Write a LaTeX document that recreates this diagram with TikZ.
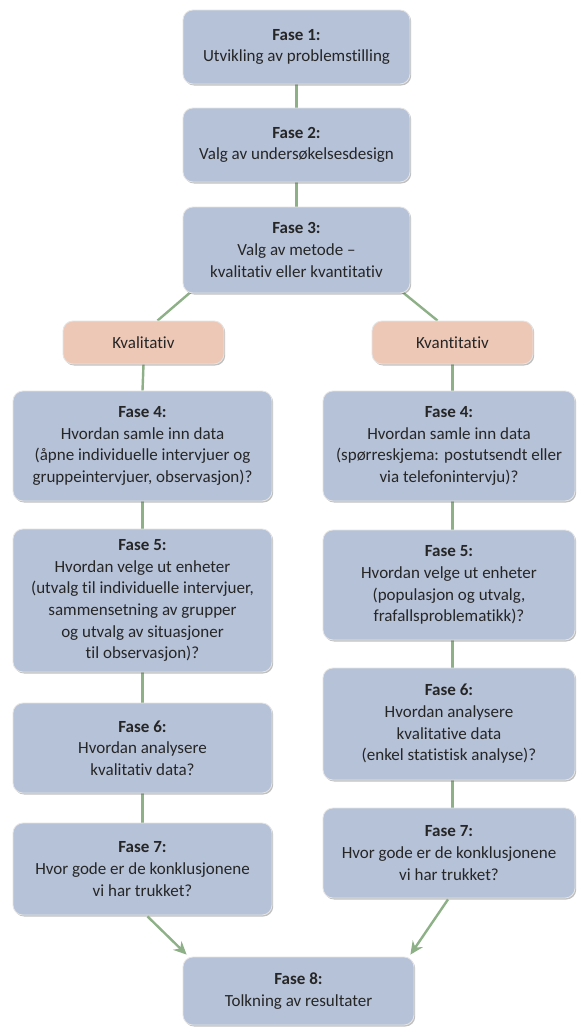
\documentclass[tikz,border=0pt]{standalone}
\usepackage{fontspec}
\setmainfont[RawFeature=-liga]{Carlito}
\usetikzlibrary{shadows,arrows.meta,calc,backgrounds}
\definecolor{boxfill}{HTML}{B6C2D8}
\definecolor{pinkfill}{HTML}{EEC8B7}
\definecolor{linegreen}{HTML}{8DB087}
\definecolor{txt}{HTML}{262626}
\begin{document}
\begin{tikzpicture}[x=1pt,y=-1pt,
  box/.style={draw=white!80!gray, line width=0.8pt, fill=boxfill, rounded corners=10pt,
    align=center, text=txt, font=\fontsize{17}{21.7}\selectfont, inner sep=0pt,
    drop shadow={shadow xshift=1.2pt, shadow yshift=-1.5pt, opacity=0.35, fill=black!70}},
  pbox/.style={box, fill=pinkfill},
  conn/.style={draw=linegreen, line width=2.4pt},
  arr/.style={conn, -{Stealth[length=13pt,width=12pt]}}]
\useasboundingbox (0,0) rectangle (576,1028);

\node[box, minimum width=227pt, minimum height=74pt] (f1) at (296.5,47) {\textbf{Fase 1:}\\Utvikling av problemstilling};
\node[box, minimum width=227pt, minimum height=74pt] (f2) at (296.5,145) {\textbf{Fase 2:}\\Valg av undersøkelsesdesign};
\node[box, minimum width=227pt, minimum height=86pt] (f3) at (296.5,250) {\textbf{Fase 3:}\\Valg av metode –\\kvalitativ eller kvantitativ};

\node[pbox, minimum width=161pt, minimum height=43pt] (kval) at (143.5,342.5) {Kvalitativ};
\node[pbox, minimum width=161pt, minimum height=43pt] (kvan) at (452.5,342.5) {Kvantitativ};

\node[box, minimum width=259pt, minimum height=110pt] (l4) at (142.5,446) {\textbf{Fase 4:}\\Hvordan samle inn data\\(åpne individuelle intervjuer og\\gruppeintervjuer, observasjon)?};
\node[box, minimum width=259pt, minimum height=143pt] (l5) at (142.5,600.5) {\textbf{Fase 5:}\\Hvordan velge ut enheter\\(utvalg til individuelle intervjuer,\\sammensetning av grupper\\og utvalg av situasjoner\\til observasjon)?};
\node[box, minimum width=259pt, minimum height=90pt] (l6) at (142.5,748) {\textbf{Fase 6:}\\Hvordan analysere\\kvalitativ data?};
\node[box, minimum width=259pt, minimum height=92pt] (l7) at (142.5,869) {\textbf{Fase 7:}\\Hvor gode er de konklusjonene\\vi har trukket?};

\node[box, minimum width=252pt, minimum height=110pt] (r4) at (449,446) {\textbf{Fase 4:}\\Hvordan samle inn data\\(spørreskjema: postutsendt eller\\via telefonintervju)?};
\node[box, minimum width=252pt, minimum height=110pt] (r5) at (449,585) {\textbf{Fase 5:}\\Hvordan velge ut enheter\\(populasjon og utvalg,\\frafallsproblematikk)?};
\node[box, minimum width=252pt, minimum height=112pt] (r6) at (449,724) {\textbf{Fase 6:}\\Hvordan analysere\\kvalitative data\\(enkel statistisk analyse)?};
\node[box, minimum width=252pt, minimum height=90pt] (r7) at (449,853) {\textbf{Fase 7:}\\Hvor gode er de konklusjonene\\vi har trukket?};

\node[box, minimum width=231pt, minimum height=68pt] (f8) at (298.5,991) {\textbf{Fase 8:}\\Tolkning av resultater};

\begin{scope}[on background layer]
\fill[white] (0,0) rectangle (576,1028);
\draw[conn] (f1.south) -- (f2.north);
\draw[conn] (f2.south) -- (f3.north);
\draw[conn] ($(f3.south west)+(10,-3)$) -- ($(kval.north)+(14,0)$);
\draw[conn] ($(f3.south east)+(-10,-3)$) -- ($(kvan.north)+(-15,0)$);
\draw[conn] (kval.south) -- (l4.north);
\draw[conn] (l4.south) -- (l5.north);
\draw[conn] (l5.south) -- (l6.north);
\draw[conn] (l6.south) -- (l7.north);
\draw[conn] (kvan.south) -- (kvan.south |- r4.north);
\draw[conn] (kvan.south |- r4.south) -- (kvan.south |- r5.north);
\draw[conn] (kvan.south |- r5.south) -- (kvan.south |- r6.north);
\draw[conn] (kvan.south |- r6.south) -- (kvan.south |- r7.north);
\end{scope}
\draw[arr] ($(l7.south)+(5,1)$) -- ($(f8.north west)+(4,-2)$);
\draw[arr] ($(r7.south)+(-1,1)$) -- ($(f8.north east)+(-4,-2)$);
\end{tikzpicture}
\end{document}
